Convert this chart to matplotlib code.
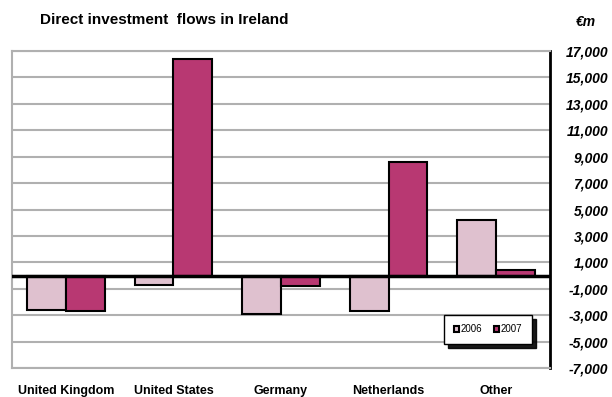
import numpy as np
import matplotlib
matplotlib.use('Agg')
import matplotlib.pyplot as plt

plt.rcParams['font.family'] = ['Liberation Sans', 'DejaVu Sans']

# 数据
countries = ['United Kingdom', 'United States', 'Germany', 'Netherlands', 'Other']
flows_2006 = [-2600, -750, -2900, -2700, 4200]
flows_2007 = [-2700, 16400, -800, 8600, 400]
y_ticks = [17000, 15000, 13000, 11000, 9000, 7000, 5000, 3000, 1000, -1000, -3000, -5000, -7000]

fig = plt.figure(figsize=(6.12, 3.97), dpi=100)
ax = fig.add_axes([12 / 612, 1 - 368 / 397, 538 / 612, 317 / 397])

x = np.arange(len(countries))
w = 0.36
ax.bar(x - w / 2, flows_2006, w, color='#dfc1cf', edgecolor='black', linewidth=1.5, label='2006', zorder=3)
ax.bar(x + w / 2, flows_2007, w, color='#b83872', edgecolor='black', linewidth=1.5, label='2007', zorder=3)

ax.set_xlim(-0.5, 4.5)
ax.set_ylim(-7000, 17000)
ax.axhline(0, color='black', linewidth=2.5, zorder=4)

ax.set_yticks(y_ticks)
ax.set_yticklabels(['{:,}'.format(v) for v in y_ticks], fontweight='bold', fontstyle='italic', fontsize=10)
ax.yaxis.tick_right()
ax.tick_params(axis='y', length=0, pad=42)
for t in ax.get_yticklabels():
    t.set_horizontalalignment('right')
ax.grid(axis='y', color='#b0b0b0', linewidth=1.5, zorder=0)

ax.set_xticks(x)
ax.set_xticklabels(countries, fontweight='bold', fontsize=9)
ax.tick_params(axis='x', length=0, pad=12)

for s in ['left', 'top', 'bottom']:
    ax.spines[s].set_color('#b0b0b0')
    ax.spines[s].set_linewidth(1.5)
ax.spines['right'].set_color('black')
ax.spines['right'].set_linewidth(2)

leg = ax.legend(loc='lower right', bbox_to_anchor=(0.975, 0.06), ncol=2, fontsize=7,
                frameon=True, fancybox=False, edgecolor='black',
                shadow={'color': 'black', 'alpha': 0.9, 'ox': 3, 'oy': -3},
                handlelength=0.6, handleheight=0.6, handletextpad=0.1, columnspacing=1.2,
                borderpad=1.0, framealpha=1)
leg.get_frame().set_linewidth(1)

fig.text(40 / 612, 1 - 20 / 397, 'Direct investment  flows in Ireland', fontsize=11,
         fontweight='bold', va='center')
fig.text(576 / 612, 1 - 22 / 397, '€m', fontsize=10, fontweight='bold', fontstyle='italic', va='center')

plt.savefig('out.png', dpi=100)
